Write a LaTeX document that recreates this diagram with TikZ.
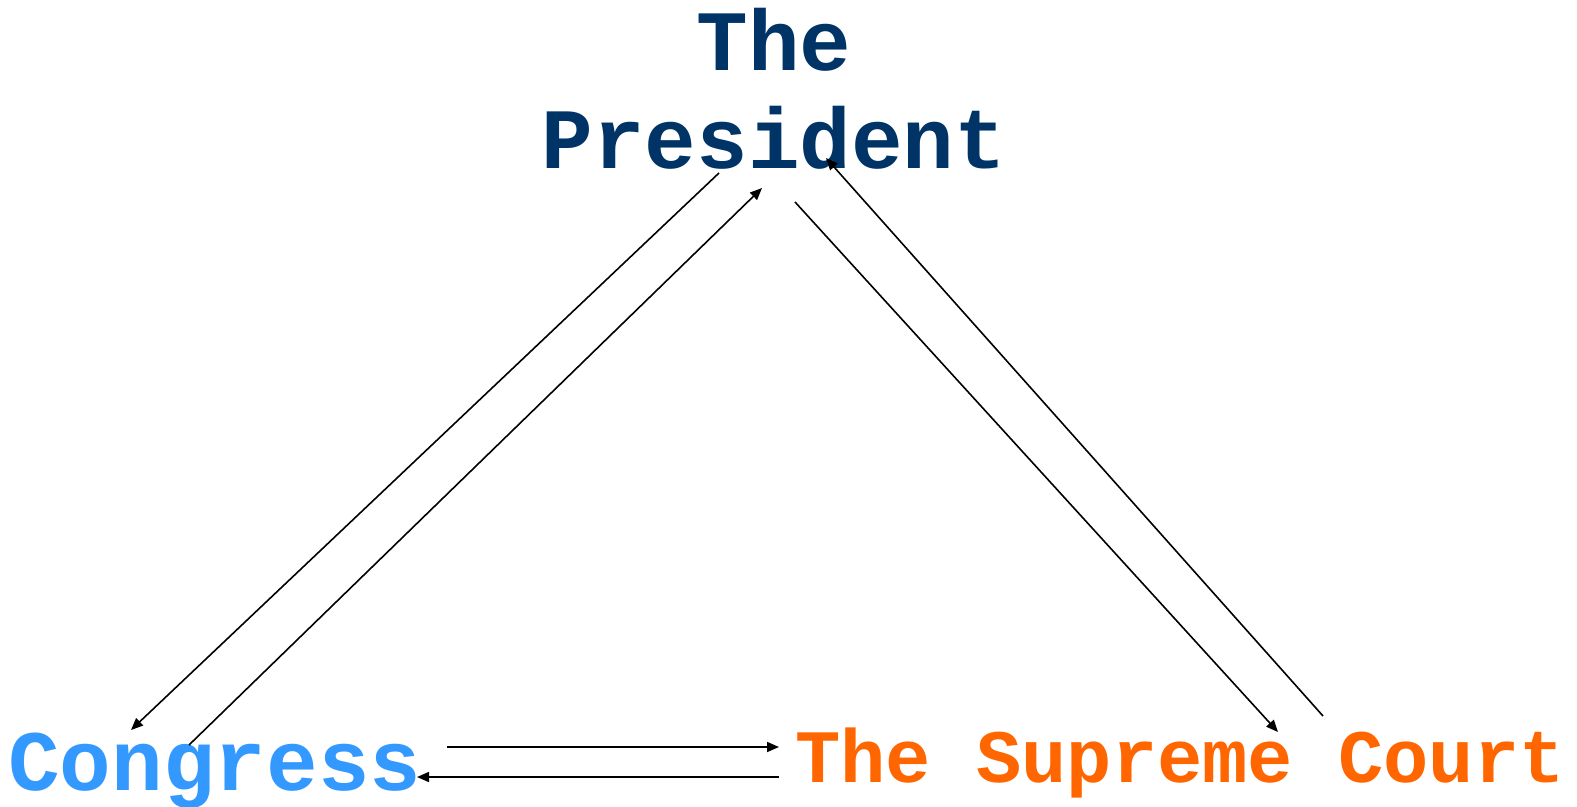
\documentclass[tikz,border=0pt]{standalone}
\usepackage{fontspec}
\setmonofont{Liberation Mono}
\definecolor{pres}{RGB}{0,51,102}
\definecolor{cong}{RGB}{51,153,255}
\definecolor{court}{RGB}{255,102,0}
\usetikzlibrary{arrows.meta,positioning}
\tikzset{
  branch/.style={inner sep=0pt,font=\ttfamily\bfseries\fontsize{43}{49}\selectfont},
  arr/.style={-{Triangle[length=6pt,width=5pt]},line width=0.8pt,draw=black},
}

\begin{document}
\begin{tikzpicture}[x=0.5pt,y=-0.5pt]
    \useasboundingbox (0,0) rectangle (1577,807);
    \node[branch,text=pres,align=center,anchor=south,text depth=0pt] (prez) at (774,169) {The\\President};
    \node[branch,text=cong,anchor=base west] (congress) at (8,790) {Congress};
    \node[branch,text=court,anchor=base west,font=\ttfamily\bfseries\fontsize{37.7}{45}\selectfont] (court) at (795,782) {The Supreme Court};
    \coordinate (pc1) at (719,173);
    \coordinate (pc2) at (131,730);
    \coordinate (cp1) at (189,745);
    \coordinate (cp2) at (762,188);
    \coordinate (ps1) at (795,202);
    \coordinate (ps2) at (1278,732);
    \coordinate (sp1) at (1323,716);
    \coordinate (sp2) at (826,158);
    \coordinate (cs1) at (447,747);
    \coordinate (cs2) at (779,747);
    \coordinate (sc1) at (779,777);
    \coordinate (sc2) at (417,777);
    \draw[arr] (pc1) -- (pc2);
    \draw[arr] (cp1) -- (cp2);
    \draw[arr] (ps1) -- (ps2);
    \draw[arr] (sp1) -- (sp2);
    \draw[arr] (cs1) -- (cs2);
    \draw[arr] (sc1) -- (sc2);
  \end{tikzpicture}
\end{document}
